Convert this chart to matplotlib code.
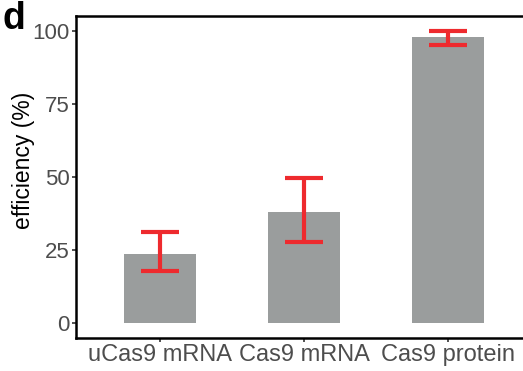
import matplotlib
matplotlib.use("Agg")
import matplotlib.pyplot as plt

categories = ["uCas9 mRNA", "Cas9 mRNA", "Cas9 protein"]
efficiency = [23.6, 38.0, 98.0]
err_low = [17.8, 27.7, 95.2]
err_high = [31.2, 49.7, 100.0]
yticks = [0, 25, 50, 75, 100]

plt.rcParams["font.family"] = ["Liberation Sans", "DejaVu Sans"]

fig = plt.figure(figsize=(5.23, 3.71), dpi=100)
ax = fig.add_axes([0.1453, 0.09, 0.872, 0.8658])

x = [1, 2, 3]
ax.bar(x, efficiency, width=0.5, color="#9a9d9d", zorder=1)
yerr = [[v - lo for v, lo in zip(efficiency, err_low)],
        [hi - v for v, hi in zip(efficiency, err_high)]]
ax.errorbar(x, efficiency, yerr=yerr, fmt="none", ecolor="#ee2a2e",
            elinewidth=3, capsize=14, capthick=3, zorder=2)

ax.set_xlim(0.417, 3.583)
ax.set_ylim(-5, 105)
ax.set_xticks(x)
ax.set_xticklabels(categories)
ax.set_yticks(yticks)
ax.tick_params(axis="both", colors="#333333", labelcolor="#4d4d4d",
               labelsize=16, length=3, width=1.2, pad=1.5)
ax.tick_params(axis="x", labelsize=17)
ax.set_ylabel("efficiency (%)", fontsize=16.5, color="black")
ax.yaxis.set_label_coords(-0.09, 0.553)

for side in ["left", "bottom", "top"]:
    ax.spines[side].set_linewidth(1.8)
    ax.spines[side].set_color("black")
ax.spines["right"].set_visible(False)

fig.text(0.004, 0.997, "d", fontsize=27, fontweight="bold", va="top", ha="left")

fig.savefig("out.png", dpi=100)
